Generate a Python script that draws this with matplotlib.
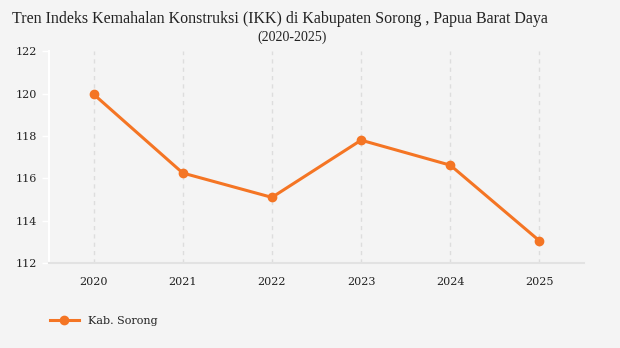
import matplotlib.pyplot as plt

# Data
tahun = ['2020', '2021', '2022', '2023', '2024', '2025']
ikk = [119.97, 116.25, 115.1, 117.8, 116.62, 113.05]
label_seri = 'Kab. Sorong'

bg = '#f4f4f4'
oranye = '#f47524'

plt.rcParams['font.family'] = ['DejaVu Serif']

fig = plt.figure(figsize=(6.2, 3.48), dpi=100, facecolor=bg)
ax = fig.add_axes([0.079, 0.244, 0.863, 0.609], facecolor=bg)

x = list(range(len(tahun)))
ax.plot(x, ikk, color=oranye, lw=2.2, marker='o', ms=6, label=label_seri, zorder=3)

ax.set_xlim(-0.5, 5.5)
ax.set_ylim(112, 122)
ax.set_yticks([112, 114, 116, 118, 120, 122])
ax.set_xticks(x)
ax.set_xticklabels(tahun)
ax.tick_params(axis='y', colors='white', labelcolor='#222222', labelsize=8, length=5, width=1)
ax.tick_params(axis='x', length=0, labelsize=8, labelcolor='#222222', pad=10)

for xi in x:
    ax.axvline(xi, color='#dddddd', lw=1, ls=(0, (3, 3)), zorder=1)

ax.spines['top'].set_visible(False)
ax.spines['right'].set_visible(False)
ax.spines['left'].set_color('white')
ax.spines['left'].set_linewidth(1.5)
ax.spines['bottom'].set_color('#e2e2e2')
ax.spines['bottom'].set_linewidth(1.5)

fig.text(0.02, 0.945, 'Tren Indeks Kemahalan Konstruksi (IKK) di Kabupaten Sorong , Papua Barat Daya',
         fontsize=11.5, family='Liberation Serif', color='#222222', ha='left', va='center')
fig.text(0.471, 0.893, '(2020-2025)', fontsize=10, family='Liberation Serif', color='#222222',
         ha='center', va='center')

ax.legend(loc='upper left', bbox_to_anchor=(-0.017, -0.203), frameon=False, fontsize=8,
          handlelength=2.6, labelcolor='#222222')

fig.savefig('out.png', dpi=100, facecolor=bg)
